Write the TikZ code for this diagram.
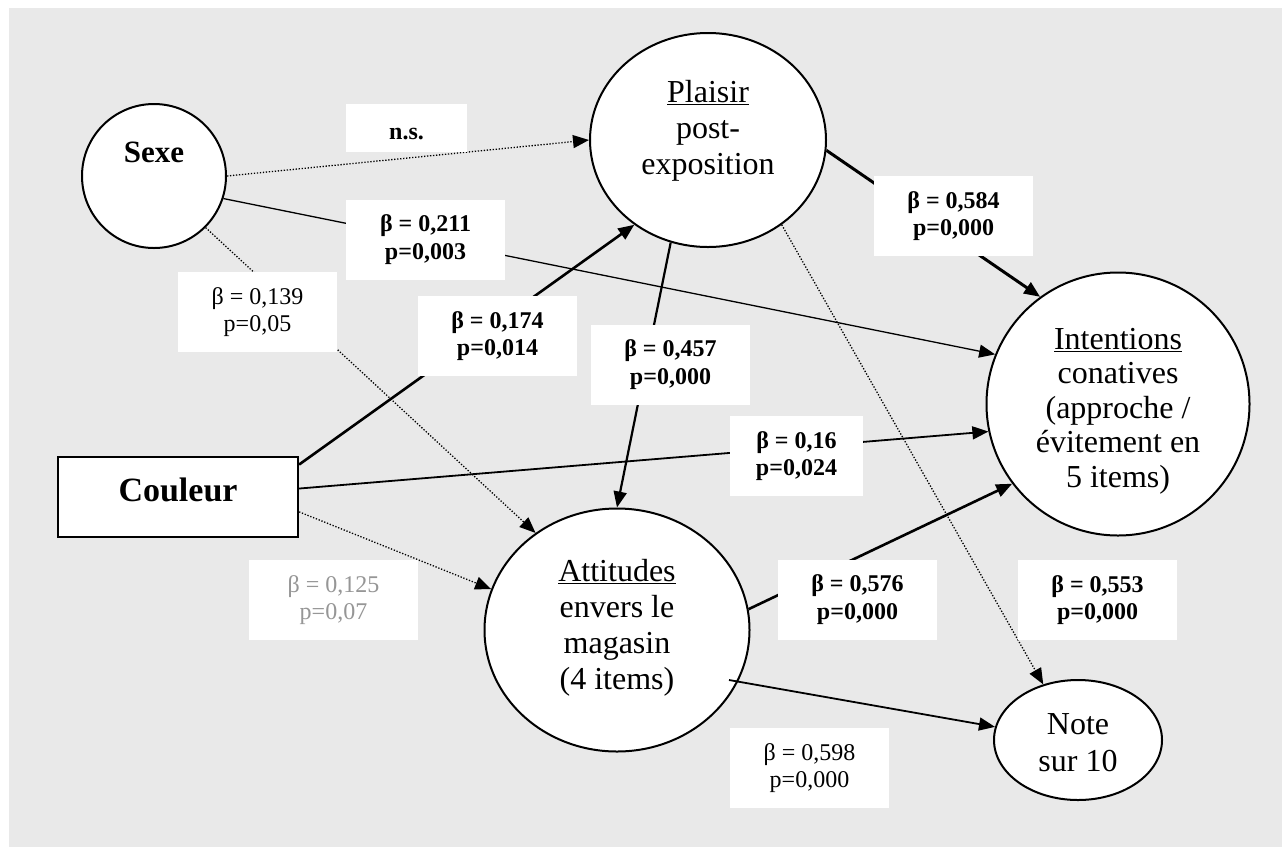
\documentclass[tikz,border=0pt]{standalone}
\usepackage{fontspec}
\setmainfont{Liberation Serif}
\usetikzlibrary{shapes.geometric,arrows.meta,calc}
\definecolor{bggrey}{RGB}{233,233,233}
\definecolor{lblgrey}{RGB}{150,150,150}
\begin{document}
\begin{tikzpicture}[x=1pt,y=-1pt,
  latent/.style={draw,ellipse,fill=white,line width=2pt,inner sep=0pt},
  ntext/.style={align=center,inner sep=0pt,font=\fontsize{32}{36}\selectfont},
  lbl/.style={fill=white,align=center,inner sep=0pt,minimum width=159,minimum height=80,font=\fontsize{24}{27.6}\selectfont},
  lblb/.style={lbl,font=\fontsize{24}{27.6}\selectfont\bfseries},
  arr/.style={-{Triangle[length=16pt,width=13pt]}},
  thickarr/.style={arr,line width=2.6pt},
  medarr/.style={arr,line width=1.8pt},
  thinarr/.style={arr,line width=1.3pt},
  dotarr/.style={arr,line width=1.3pt,dash pattern=on 1.3pt off 1.7pt}]
\useasboundingbox (0,0) rectangle (1282,847);
\fill[white] (0,0) rectangle (1282,847);
\fill[bggrey] (9,8) rectangle (1282,847);

% shapes
\node[latent,minimum width=144,minimum height=144] (sexe) at (154,176) {};
\node[latent,minimum width=236,minimum height=214] (plaisir) at (708,140) {};
\node[latent,minimum width=263,minimum height=263] (intent) at (1118,404) {};
\node[latent,minimum width=265,minimum height=243] (att) at (617,630) {};
\node[latent,minimum width=168,minimum height=120] (note) at (1078,740) {};
\node[draw,fill=white,line width=2.2pt,minimum width=240,minimum height=80,inner sep=0pt] (couleur) at (178,497) {};

% texts
\node[ntext,font=\fontsize{31}{36}\selectfont\bfseries] (tsexe) at (154,152) {Sexe};
\node[ntext] (tplaisir) at (708,131) {\underline{Plaisir}\\post-\\exposition};
\node[ntext,font=\fontsize{32}{34.5}\selectfont] (tintent) at (1118,411) {\underline{Intentions}\\conatives\\(approche /\\évitement en\\5 items)};
\node[ntext] (tatt) at (617,628) {\underline{Attitudes}\\envers le\\magasin\\(4 items)};
\node[ntext,font=\fontsize{32}{37}\selectfont] (tnote) at (1078,743) {Note\\sur 10};
\node[inner sep=0pt,font=\fontsize{34}{40}\selectfont\bfseries] (tcouleur) at (178,490) {Couleur};

% connectors
\draw[dotarr] (sexe.0) -- (plaisir.180);
\draw[thinarr] (sexe.-18.4) -- (intent.158);
\draw[dotarr] (sexe.-45) -- (att.130);
\draw[thickarr] (couleur.15.8) -- (plaisir.229.8);
\draw[medarr] (couleur.4.3) -- (intent.192);
\draw[dotarr] (couleur.-7.6) -- (att.162);
\draw[thickarr,line width=3pt] (plaisir.-5.3) -- (intent.126.7);
\draw[thickarr,line width=2.2pt] (plaisir.250.3) -- (att.90);
\draw[dotarr] (plaisir.-49.7) -- (note.122.7);
\draw[thickarr] (att.9.1) -- (intent.217.6);
\draw[medarr] ($(att.center)+(112,50)$) -- (note.171.2);

% labels
\node[lblb,minimum width=121,minimum height=48,text height=22pt,text depth=0pt] (lns) at (406.5,128) {n.s.};
\node[lblb] (l211) at (425.5,239.5) {β = 0,211\\p=0,003};
\node[lbl] (l139) at (257.5,312) {β = 0,139\\p=0,05};
\node[lblb] (l174) at (497.5,336) {β = 0,174\\p=0,014};
\node[lblb] (l457) at (670.5,364.5) {β = 0,457\\p=0,000};
\node[lblb] (l584) at (953.5,216) {β = 0,584\\p=0,000};
\node[lblb,minimum width=133] (l16) at (796.5,456) {β = 0,16\\p=0,024};
\node[lbl,text=lblgrey,minimum width=169] (l125) at (333.5,600) {β = 0,125\\p=0,07};
\node[lblb] (l576) at (857.5,599.5) {β = 0,576\\p=0,000};
\node[lblb] (l553) at (1097.5,600) {β = 0,553\\p=0,000};
\node[lbl] (l598) at (809.5,768) {β = 0,598\\p=0,000};
\end{tikzpicture}
\end{document}
